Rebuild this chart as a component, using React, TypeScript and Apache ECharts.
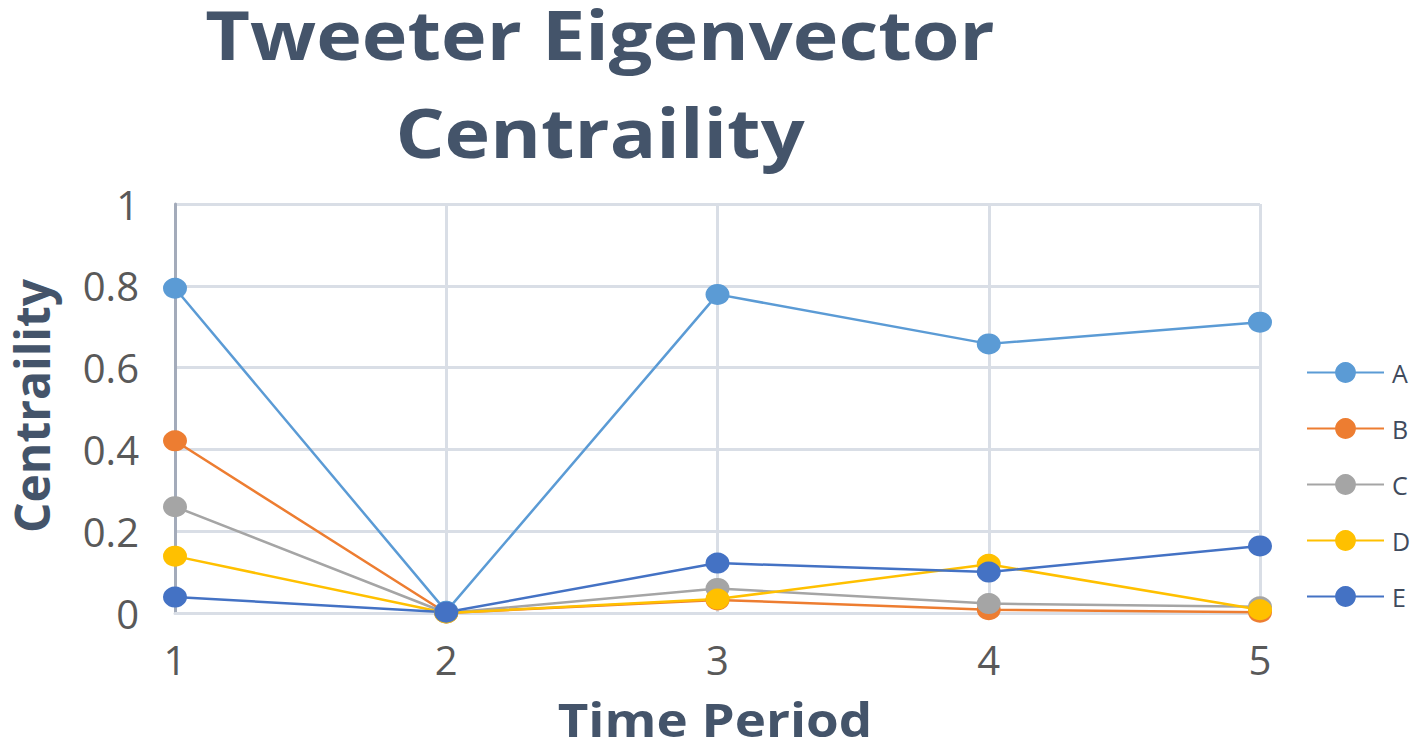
import React, { useEffect, useRef } from "react";
import * as echarts from "echarts";

const periods = ["1", "2", "3", "4", "5"];
const seriesNames = ["A", "B", "C", "D", "E"];
const valuesA = [0.794, 0.004, 0.779, 0.658, 0.711];
const valuesB = [0.421, 0.0, 0.032, 0.008, 0.002];
const valuesC = [0.26, 0.0, 0.06, 0.023, 0.015];
const valuesD = [0.139, 0.0, 0.034, 0.119, 0.008];
const valuesE = [0.039, 0.002, 0.122, 0.1, 0.164];
const colors = ["#5B9BD5", "#ED7D31", "#A5A5A5", "#FFC000", "#4472C4"];
const titleLines = ["Tweeter Eigenvector", "Centraility"];
const xTitle = "Time Period";
const yTitle = "Centraility";

export default function App() {
  const ref = useRef<HTMLDivElement>(null);
  useEffect(() => {
    if (!ref.current) return;
    const chart = echarts.init(ref.current, null, { renderer: "svg" });
    const all = [valuesA, valuesB, valuesC, valuesD, valuesE];
    const font = "'Open Sans', 'Noto Sans', sans-serif";
    const titleColor = "#44546A";
    chart.setOption({
      animation: false,
      backgroundColor: "#ffffff",
      textStyle: { fontFamily: font },
      grid: { left: 175, right: 155, top: 204, bottom: 132, containLabel: false },
      graphic: [
        {
          type: "text",
          x: 600,
          y: 33,
          scaleX: 1.12,
          style: {
            text: titleLines[0],
            font: `bold 69px ${font}`,
            lineHeight: 60,
            fill: titleColor,
            textAlign: "center",
            textVerticalAlign: "middle",
          },
        },
        {
          type: "text",
          x: 600,
          y: 131,
          scaleX: 1.12,
          style: {
            text: titleLines[1],
            font: `bold 69px ${font}`,
            lineHeight: 60,
            fill: titleColor,
            textAlign: "center",
            textVerticalAlign: "middle",
          },
        },
        {
          type: "text",
          x: 715,
          y: 719,
          scaleX: 1.15,
          style: {
            text: xTitle,
            font: `bold 46px ${font}`,
            lineHeight: 40,
            fill: titleColor,
            textAlign: "center",
            textVerticalAlign: "middle",
          },
        },
        {
          type: "text",
          x: 31,
          y: 406,
          rotation: Math.PI / 2,
          style: {
            text: yTitle,
            font: `bold 48px ${font}`,
            lineHeight: 48,
            fill: titleColor,
            textAlign: "center",
            textVerticalAlign: "middle",
          },
        },
      ],
      legend: {
        orient: "vertical",
        left: 1306,
        top: 360,
        padding: 0,
        itemWidth: 77,
        itemHeight: 26,
        itemGap: 31,
        data: seriesNames,
        textStyle: { fontSize: 25, color: "#404A5C", fontFamily: font, padding: [0, 0, 0, 3] },
      },
      xAxis: {
        type: "category",
        boundaryGap: false,
        data: periods,
        axisLine: { show: true, lineStyle: { color: "#D9DEE6", width: 3 } },
        axisTick: { show: false },
        axisLabel: { fontSize: 40, color: "#595959", margin: 26, fontFamily: font },
        splitLine: { show: true, lineStyle: { color: "#D9DEE6", width: 3 } },
      },
      yAxis: {
        type: "value",
        min: 0,
        max: 1,
        interval: 0.2,
        axisLine: { show: true, lineStyle: { color: "#A3ABBA", width: 3 } },
        axisTick: { show: false },
        axisLabel: { fontSize: 40, color: "#595959", margin: 36, fontFamily: font },
        splitLine: { show: true, lineStyle: { color: "#D9DEE6", width: 3 } },
      },
      series: seriesNames.map((name, i) => ({
        name,
        type: "line",
        data: all[i],
        symbol: "circle",
        symbolSize: [24, 21],
        color: colors[i],
        lineStyle: { width: 2.5, color: colors[i] },
        itemStyle: { color: colors[i] },
      })),
    });
    return () => chart.dispose();
  }, []);
  return (
    <div
      ref={ref}
      style={{ position: "absolute", left: 0, top: 0, width: 1415, height: 745 }}
    />
  );
}
